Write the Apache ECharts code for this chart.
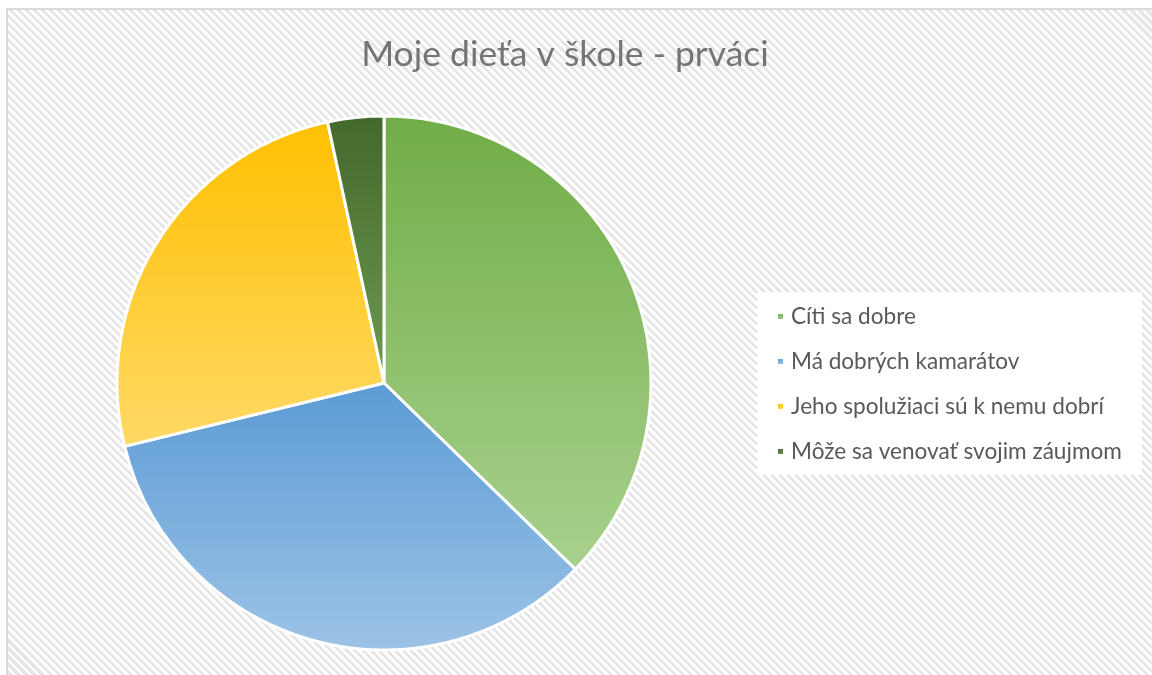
<!DOCTYPE html>
<html>
<head>
<meta charset="utf-8">
<script src="https://cdn.jsdelivr.net/npm/echarts@6/dist/echarts.min.js"></script>
<style>
	html, body { margin: 0; padding: 0; background: #fff; overflow: hidden; }
	#frame {
		position: absolute;
		left: 6px;
		top: 8px;
		width: 1180px;
		height: 700px;
		border-left: 2px solid #d9d9d9;
		border-top: 2px solid #d9d9d9;
		background: repeating-linear-gradient(45deg, #ffffff 0px, #ffffff 2.8px, #e6e6e6 2.8px, #e6e6e6 5.66px);
	}
	#chart {
		position: absolute;
		left: 0;
		top: 0;
		width: 1152px;
		height: 675px;
	}
</style>
</head>
<body>
<div id="frame"></div>
<div id="chart"></div>
<script>
	var categories = ['Cíti sa dobre', 'Má dobrých kamarátov', 'Jeho spolužiaci sú k nemu dobrí', 'Môže sa venovať svojim záujmom'];
	var values = [22, 20, 15, 2];
	// top colour / bottom colour of each slice
	var topColors = ['#70ad47', '#5b9bd5', '#ffc000', '#43682b'];
	var bottomColors = ['#a9d18e', '#9dc3e6', '#ffd966', '#6f9a52'];

	var pieData = categories.map(function (name, i) {
		return {
			name: name,
			value: values[i],
			itemStyle: {
				color: {
					type: 'linear', x: 0, y: 0, x2: 0, y2: 1,
					colorStops: [
						{ offset: 0, color: topColors[i] },
						{ offset: 1, color: bottomColors[i] }
					]
				}
			}
		};
	});

	var chart = echarts.init(document.getElementById('chart'), null, { renderer: 'canvas' });
	chart.setOption({
		backgroundColor: 'transparent',
		animation: false,
		title: {
			text: 'Moje dieťa v škole - prváci',
			left: 560,
			top: 32,
			textAlign: 'center',
			textStyle: {
				fontFamily: 'Lato',
				fontSize: 35.5,
				fontWeight: 'normal',
				color: '#757575'
			}
		},
		legend: {
			orient: 'vertical',
			left: 757,
			top: 292,
			padding: [13, 20, 12, 19],
			backgroundColor: '#ffffff',
			itemWidth: 7,
			itemHeight: 7,
			itemGap: 22,
			icon: 'rect',
			data: categories,
			textStyle: {
				fontFamily: 'Lato',
				fontSize: 22.6,
				color: '#595959',
				padding: [0, 0, 0, 2]
			}
		},
		series: [{
			type: 'pie',
			center: [384, 383],
			radius: 267,
			startAngle: 90,
			clockwise: true,
			label: { show: false },
			labelLine: { show: false },
			emphasis: { disabled: true },
			itemStyle: { borderColor: '#ffffff', borderWidth: 3 },
			data: pieData
		}]
	});
</script>
</body>
</html>
